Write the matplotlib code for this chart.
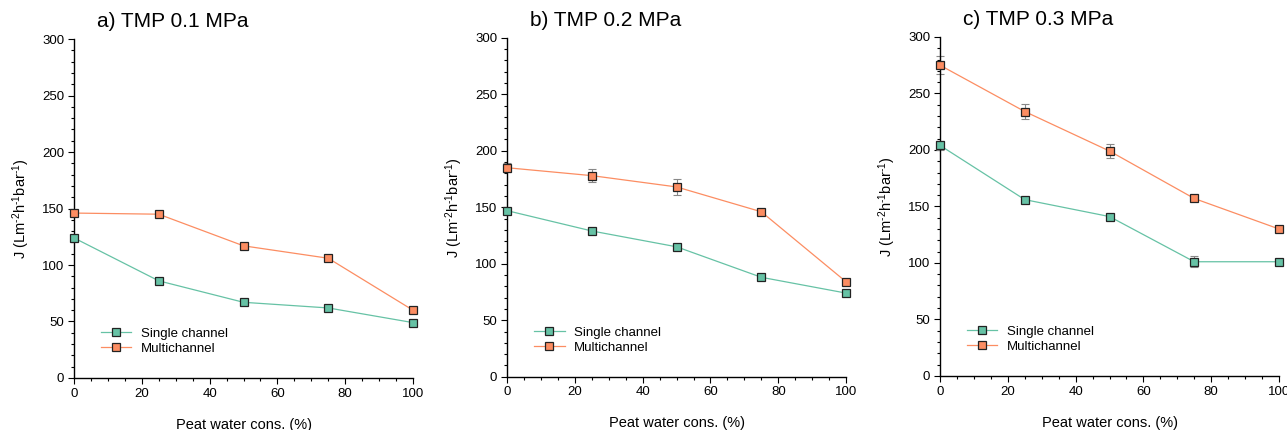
import matplotlib
matplotlib.use('Agg')
import matplotlib.pyplot as plt
from matplotlib.ticker import MultipleLocator

plt.rcParams['font.family'] = ['Liberation Sans', 'DejaVu Sans']
plt.rcParams['mathtext.fontset'] = 'custom'
plt.rcParams['mathtext.rm'] = 'Liberation Sans'
plt.rcParams['mathtext.it'] = 'Liberation Sans'

# peat water concentration (%)
cons = [0, 25, 50, 75, 100]

# flux J (L m-2 h-1 bar-1)
single_01 = [124, 86, 67, 62, 49]
multi_01 = [146, 145, 117, 106, 60]
single_01_err = [3, 2, 2, 2, 2]
multi_01_err = [3, 2, 2, 2, 2]

single_02 = [147, 129, 115, 88, 74]
multi_02 = [185, 178, 168, 146, 84]
single_02_err = [2, 2, 2, 2, 2]
multi_02_err = [4, 6, 7, 2, 2]

single_03 = [204, 156, 141, 101, 101]
multi_03 = [275, 234, 199, 157, 130]
single_03_err = [4, 2, 2, 5, 2]
multi_03_err = [8, 7, 6, 2, 2]

titles = ['a) TMP 0.1 MPa', 'b) TMP 0.2 MPa', 'c) TMP 0.3 MPa']
panels = [
    (single_01, single_01_err, multi_01, multi_01_err),
    (single_02, single_02_err, multi_02, multi_02_err),
    (single_03, single_03_err, multi_03, multi_03_err),
]

green = '#66c2a5'
orange = '#fc8d62'

fig = plt.figure(figsize=(12.87, 4.30), dpi=100)
lefts = [0.0575, 0.394, 0.7304]
bottoms = [0.121, 0.124, 0.126]
w = 0.2634
h = 0.788

for i, (s, se, m, me) in enumerate(panels):
    ax = fig.add_axes([lefts[i], bottoms[i], w, h])
    for y, err, col, lab in [(s, se, green, 'Single channel'), (m, me, orange, 'Multichannel')]:
        ax.errorbar(cons, y, yerr=err, fmt='none', ecolor='#888888', elinewidth=0.8,
                    capsize=3, capthick=0.8, clip_on=False, zorder=2)
        ax.plot(cons, y, color=col, lw=0.9, marker='s', markersize=5.5,
                markerfacecolor=col, markeredgecolor='#222222', markeredgewidth=0.9,
                clip_on=False, zorder=3, label=lab)
    ax.set_xlim(0, 100)
    ax.set_ylim(0, 300)
    ax.xaxis.set_major_locator(MultipleLocator(20))
    ax.xaxis.set_minor_locator(MultipleLocator(5))
    ax.yaxis.set_major_locator(MultipleLocator(50))
    ax.yaxis.set_minor_locator(MultipleLocator(10))
    for side in ['top', 'right']:
        ax.spines[side].set_visible(False)
    ax.spines['left'].set_linewidth(1.0)
    ax.spines['bottom'].set_linewidth(1.0)
    ax.tick_params(which='major', direction='out', length=4, width=0.8, labelsize=9.5, pad=3)
    ax.tick_params(which='minor', direction='out', length=2, width=0.8)
    ax.set_xlabel('Peat water cons. (%)', fontsize=10.5, labelpad=13)
    ax.set_ylabel('J (Lm$^{\\text{-}2}$h$^{\\text{-}1}$bar$^{\\text{-}1}$)', fontsize=10.5, labelpad=7)
    ax.text(0.29, 1.052, titles[i], transform=ax.transAxes, ha='center', va='center',
            fontsize=15)
    ax.legend(loc='center left', bbox_to_anchor=(0.08, 0.108), frameon=False,
              fontsize=9.5, handlelength=2.3, handletextpad=0.7, labelspacing=0.2,
              borderpad=0, borderaxespad=0)

fig.savefig('out.png', dpi=100)
